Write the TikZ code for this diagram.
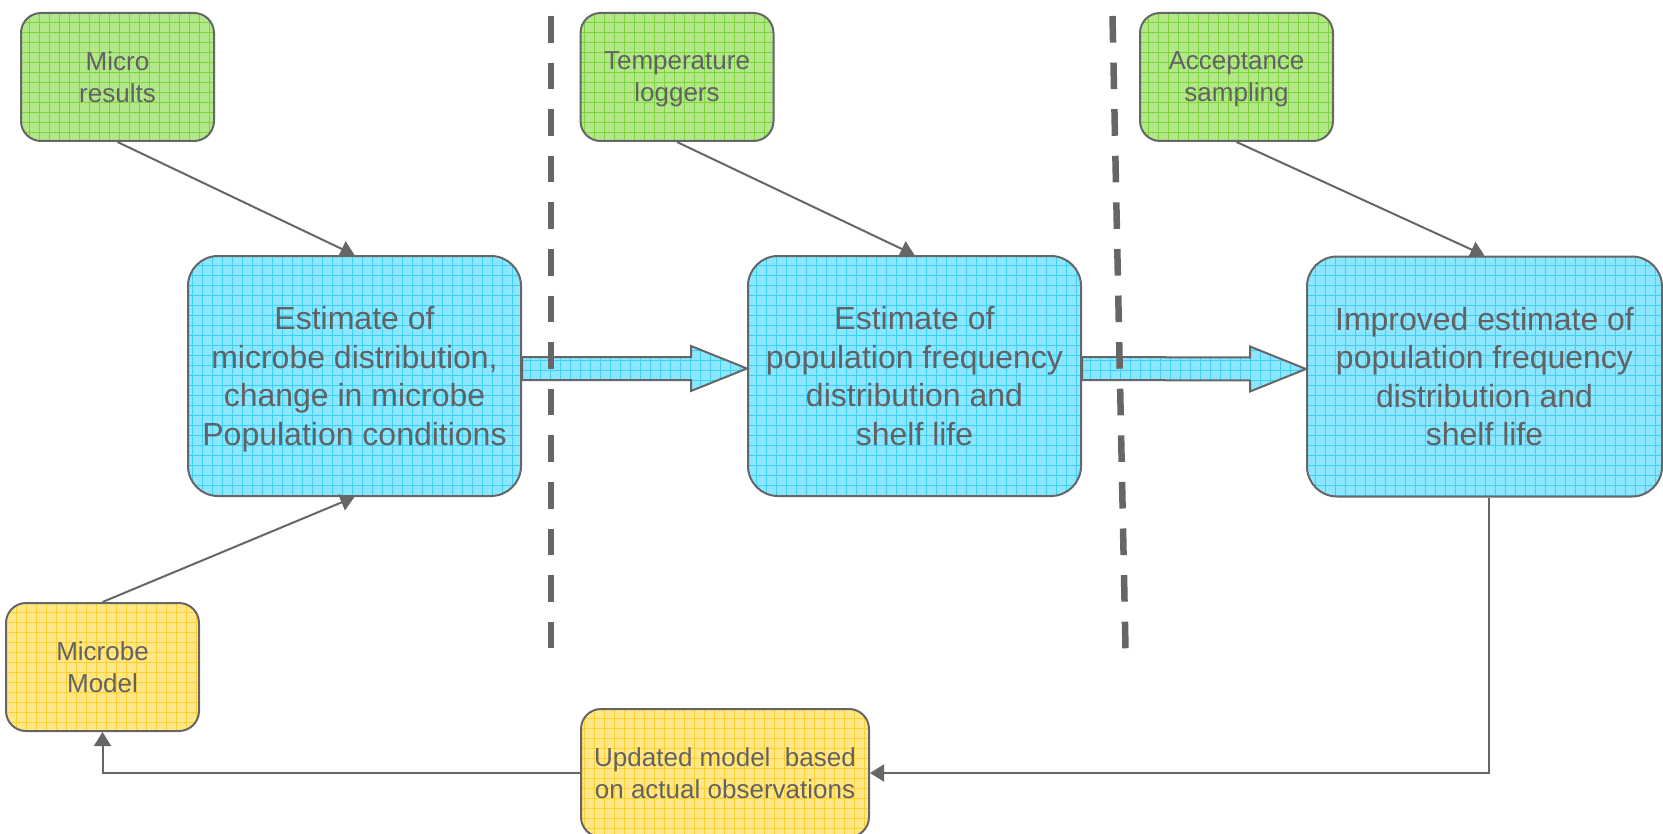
\documentclass[tikz,border=0pt]{standalone}
\usepackage{fontspec}
\setmainfont{Liberation Sans}
\usepackage{tikz}
\usetikzlibrary{arrows.meta,calc}

\definecolor{linegray}{RGB}{102,102,102}
\definecolor{textgray}{RGB}{98,98,98}
\definecolor{greenfill}{RGB}{178,231,138}
\definecolor{greengrid}{RGB}{125,212,60}
\definecolor{bluefill}{RGB}{140,230,255}
\definecolor{bluegrid}{RGB}{60,208,245}
\definecolor{yellowfill}{RGB}{255,230,135}
\definecolor{yellowgrid}{RGB}{252,208,50}

\tikzset{
	gridfill/.style={path picture={\draw[#1, line width=0.35pt] (path picture bounding box.south west) grid[step=5pt] (path picture bounding box.north east);}},
	box/.style={draw=linegray, line width=1pt, rounded corners=10pt, align=center, text=textgray, inner sep=0pt, text depth=-1pt, font=\fontsize{13}{16}\selectfont},
	inputbox/.style={box, fill=greenfill, gridfill=greengrid, minimum width=96.5pt, minimum height=64pt},
	modelbox/.style={box, fill=yellowfill, gridfill=yellowgrid, minimum width=96.5pt, minimum height=64pt},
	estbox/.style={box, fill=bluefill, gridfill=bluegrid, rounded corners=15pt, minimum width=166.5pt, minimum height=120pt, text depth=-1.6pt, font=\fontsize{16}{19.2}\selectfont},
	link/.style={draw=linegray, line width=1pt, -{Triangle[length=7pt,width=8.5pt]}},
	bigarrow/.style={draw=linegray, line width=1pt, fill=bluefill, gridfill=bluegrid},
	divider/.style={draw=linegray, line width=3.25pt, dash pattern=on 13.3pt off 10pt},
}

\begin{document}
\begin{tikzpicture}[x=0.5pt,y=-0.5pt]
	\useasboundingbox (0,0) rectangle (1663,834);

	% Inputs along the top
	\node[inputbox] (micro) at (117.5,77) {Micro\\results};
	\node[inputbox] (temp) at (677,77) {Temperature\\loggers};
	\node[inputbox] (accept) at (1236.5,77) {Acceptance\\sampling};

	% Estimates
	\node[estbox] (est1) at (354.5,376) {Estimate of\\microbe distribution,\\change in microbe\\Population conditions};
	\node[estbox] (est2) at (914.5,376) {Estimate of\\population frequency\\distribution and\\shelf life};
	\node[estbox, minimum width=177.5pt] (est3) at (1484.5,376.5) {Improved estimate of\\population frequency\\distribution and\\shelf life};

	% Models
	\node[modelbox] (model) at (102.5,667) {Microbe\\Model};
	\node[modelbox, minimum width=144pt, text depth=-2pt] (update) at (725,773) {Updated model\ \ based\\on actual observations};

	% Block arrows between estimates
	\foreach \a/\b in {est1/est2, est2/est3}
		\path[bigarrow] ($(\a.east)+(0,-19)$) -- ($(\b.west)+(-56,-19)$) -- ($(\b.west)+(-56,-30)$)
			-- ($(\b.west)+(0,-7.5)$) -- ($(\b.west)+(-56,15)$) -- ($(\b.west)+(-56,4)$)
			-- ($(\a.east)+(0,4)$) -- cycle;

	% Thin connectors
	\draw[link] (micro.south) -- (est1.north);
	\draw[link] (temp.south) -- (est2.north);
	\draw[link] (accept.south) -- (est3.north);
	\draw[link] (model.north) -- (est1.south);
	\draw[link] ([xshift=2.25pt]est3.south) |- (update.east);
	\draw[link] (update.west) -| (model.south);

	% Stage dividers
	\draw[divider] (551,16) -- (551,649);
	\draw[divider] (1112.5,16) -- (1125.5,649);

\end{tikzpicture}
\end{document}
